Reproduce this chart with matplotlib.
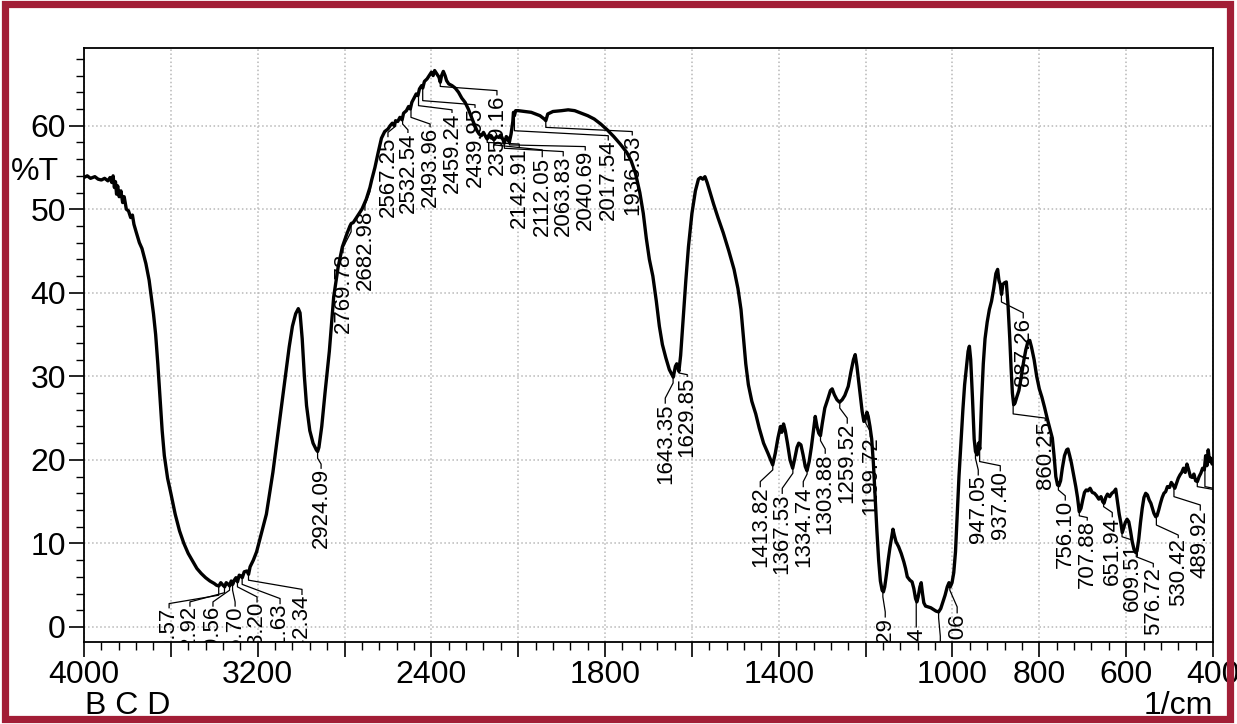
import numpy as np
import matplotlib
matplotlib.use("Agg")
import matplotlib.pyplot as plt
from matplotlib.patches import Rectangle

plt.rcParams["font.family"] = ["Liberation Sans", "DejaVu Sans"]

# spectrum (cm-1, %T)
wavenumber = [
    4000, 3985, 3970, 3950, 3935, 3920, 3905, 3890, 3880, 3872, 3866, 3860, 3855, 3850, 3845,
    3838, 3830, 3822, 3815, 3805, 3795, 3785, 3777, 3770, 3760, 3745, 3733, 3715, 3700, 3690,
    3680, 3670, 3660, 3650, 3640, 3630, 3615, 3600, 3580, 3560, 3540, 3520, 3500, 3480, 3460,
    3440, 3420, 3400, 3390, 3379, 3370, 3360, 3352, 3345, 3335, 3329, 3322, 3315, 3308, 3300,
    3293, 3285, 3278, 3271, 3262, 3250, 3242, 3235, 3220, 3205, 3190, 3175, 3160, 3145, 3130,
    3115, 3100, 3085, 3070, 3055, 3040, 3025, 3013, 3005, 2995, 2985, 2975, 2960, 2945, 2930,
    2924, 2918, 2905, 2890, 2870, 2850, 2830, 2810, 2790, 2775, 2769, 2760, 2740, 2720, 2700,
    2690, 2683, 2675, 2660, 2645, 2630, 2615, 2600, 2590, 2580, 2570, 2565, 2555, 2545, 2535,
    2528, 2515, 2505, 2497, 2490, 2480, 2470, 2462, 2455, 2445, 2440, 2432, 2420, 2410, 2400,
    2392, 2385, 2375, 2365, 2359, 2353, 2345, 2337, 2330, 2320, 2305, 2290, 2275, 2260, 2245,
    2230, 2215, 2200, 2190, 2180, 2170, 2160, 2150, 2143, 2135, 2125, 2112, 2100, 2090, 2080,
    2070, 2064, 2055, 2048, 2041, 2033, 2025, 2022, 2017.5, 2012, 2000, 1985, 1970, 1960, 1950,
    1945, 1940, 1936.5, 1932, 1920, 1900, 1885, 1870, 1855, 1840, 1825, 1810, 1795, 1780, 1765,
    1750, 1740, 1730, 1720, 1712, 1705, 1698, 1690, 1682, 1675, 1668, 1660, 1652, 1646, 1643,
    1638, 1635, 1630, 1626, 1620, 1614, 1608, 1600, 1592, 1585, 1580, 1575, 1570, 1565, 1558,
    1550, 1540, 1528, 1515, 1503, 1494, 1487, 1481, 1476, 1470, 1462, 1453, 1445, 1435, 1425,
    1414, 1408, 1402, 1396, 1393, 1389, 1385, 1380, 1374, 1368, 1363, 1358, 1354, 1349, 1344,
    1339, 1335, 1330, 1325, 1320, 1316, 1312, 1308, 1304, 1300, 1294, 1287, 1281, 1277, 1272,
    1266, 1260, 1254, 1248, 1240, 1234, 1228, 1224, 1220, 1214, 1208, 1204, 1200, 1197, 1194,
    1190, 1186, 1182, 1178, 1174, 1170, 1166, 1162, 1159, 1156, 1152, 1148, 1144, 1140, 1137,
    1134, 1130, 1124, 1118, 1112, 1108, 1104, 1098, 1093, 1089, 1085, 1082, 1079, 1075, 1072,
    1069, 1066, 1062, 1056, 1050, 1044, 1038, 1032, 1027, 1022, 1017, 1012, 1008, 1005, 1001,
    997, 993, 989, 985, 980, 976, 972, 968, 964, 961, 958, 954, 950, 947, 943,
    940, 937, 933, 929, 925, 920, 915, 910, 905, 900, 896, 893, 890, 887, 884,
    880, 876, 872, 868, 865, 862, 859, 856, 852, 847, 842, 836, 831, 826, 822,
    818, 812, 806, 800, 794, 788, 782, 776, 770, 766, 762, 758, 755, 751, 747,
    742, 737, 734, 730, 726, 721, 716, 712, 708, 704, 700, 696, 692, 688, 683,
    678, 673, 668, 663, 658, 654, 651, 647, 643, 638, 633, 628, 624, 620, 616,
    612, 609, 606, 602, 598, 594, 590, 586, 582, 578, 575, 571, 567, 563, 559,
    555, 551, 547, 543, 540, 536, 532, 529, 525, 521, 517, 513, 509, 505, 500,
    496, 492, 488, 484, 480, 476, 472, 468, 464, 460, 456, 452, 448, 444, 440,
    436, 432, 428, 424, 420, 417, 414, 411, 408, 405, 402, 400,
]
transmittance = [
    53.8, 54.0, 53.7, 53.9, 53.6, 53.5, 53.7, 53.4, 53.8, 53.2, 54.0, 52.6, 53.3, 51.8, 52.8,
    51.5, 52.2, 50.8, 51.5, 50.0, 49.8, 49.0, 49.3, 48.2, 47.3, 46.0, 45.3, 43.5, 41.5, 39.5,
    37.5, 35.0, 31.5, 27.5, 23.5, 20.5, 17.8, 16.0, 13.5, 11.5, 10.0, 8.8, 7.9, 7.0, 6.4,
    5.9, 5.5, 5.2, 5.0, 4.9, 5.3, 5.0, 4.8, 5.3, 5.1, 4.9, 5.5, 5.1, 5.6, 5.9,
    5.4, 6.2, 6.1, 5.9, 6.6, 6.7, 6.3, 7.2, 8.0, 9.0, 10.5, 12.0, 13.5, 16.0, 18.5,
    21.5, 24.5, 27.5, 30.5, 33.5, 36.0, 37.5, 38.1, 37.6, 34.5, 30.0, 26.5, 23.5, 22.0, 21.2,
    21.0, 21.5, 24.0, 28.0, 33.0, 39.5, 43.0, 45.5, 47.0, 48.0, 48.3, 48.4, 49.2, 50.0, 51.2,
    52.0, 52.6, 53.5, 55.0, 56.8, 58.5, 59.3, 59.6, 60.0, 60.3, 60.0, 60.6, 60.5, 61.0, 60.7,
    61.5, 61.8, 62.3, 62.0, 62.8, 63.3, 63.8, 63.6, 64.4, 64.8, 64.5, 65.3, 65.6, 66.0, 66.4,
    66.0, 66.6, 66.2, 65.8, 65.2, 66.0, 66.5, 66.0, 65.4, 65.0, 64.8, 64.5, 64.0, 63.3, 62.8,
    62.0, 61.0, 60.0, 59.4, 59.0, 58.8, 59.2, 58.7, 58.4, 58.9, 58.8, 58.3, 58.7, 58.6, 58.9,
    58.3, 57.9, 58.7, 58.5, 58.0, 59.0, 60.5, 61.6, 61.2, 61.8, 61.8, 61.7, 61.6, 61.4, 61.2,
    61.0, 60.8, 60.6, 61.4, 61.7, 61.8, 61.9, 61.8, 61.5, 61.2, 60.8, 60.2, 59.5, 58.7, 57.8,
    56.8, 55.8, 54.3, 52.0, 49.5, 46.5, 44.0, 42.0, 39.0, 36.0, 33.8, 32.2, 30.8, 30.2, 29.9,
    31.2, 31.5, 30.6, 32.5, 37.0, 41.5, 45.5, 49.5, 52.2, 53.6, 53.8, 53.6, 53.9, 53.2, 52.0,
    50.6, 49.0, 47.2, 45.0, 42.8, 40.5, 38.0, 34.5, 31.5, 29.0, 27.0, 25.5, 23.8, 22.0, 20.8,
    19.4, 20.8, 22.6, 24.0, 23.3, 24.3, 23.5, 22.0, 20.0, 19.0, 20.2, 21.5, 22.0, 21.8, 20.6,
    19.2, 18.7, 19.8, 21.5, 23.5, 25.2, 24.0, 23.2, 22.9, 24.3, 26.2, 27.3, 28.3, 28.5, 27.8,
    27.2, 26.9, 27.2, 27.7, 28.8, 30.5, 32.0, 32.6, 31.2, 28.5, 25.8, 24.6, 25.0, 25.7, 25.2,
    24.0, 22.5, 19.5, 15.5, 11.5, 8.0, 5.5, 4.4, 4.2, 4.8, 6.3, 8.0, 9.5, 10.8, 11.7,
    11.0, 10.2, 9.6, 8.8, 7.8, 7.0, 6.0, 5.6, 5.4, 4.6, 3.4, 3.0, 3.6, 4.8, 5.3,
    4.0, 2.9, 2.5, 2.4, 2.3, 2.1, 1.9, 1.8, 2.2, 3.0, 3.8, 4.8, 5.3, 4.8, 5.3,
    6.5, 9.0, 13.5, 18.0, 22.5, 26.0, 29.0, 31.0, 33.0, 33.6, 32.0, 27.5, 22.5, 21.0, 20.6,
    22.0, 21.3, 27.0, 31.5, 34.5, 36.5, 38.0, 39.0, 40.5, 42.3, 42.8, 41.5, 41.0, 39.8, 41.0,
    41.2, 41.3, 38.5, 34.5, 31.0, 28.0, 26.6, 26.8, 27.5, 28.3, 29.8, 31.8, 33.2, 34.2, 34.3,
    33.5, 32.0, 30.0, 28.5, 27.5, 26.3, 25.0, 23.8, 22.6, 20.5, 18.0, 17.0, 16.9, 17.5, 19.0,
    20.5, 21.2, 21.3, 20.5, 19.6, 18.2, 16.8, 15.5, 13.8, 14.2, 15.2, 16.1, 16.4, 16.3, 16.6,
    16.1, 16.0, 15.7, 15.3, 15.6, 15.0, 14.8, 15.5, 15.9, 15.6, 16.0, 16.2, 16.5, 15.0, 13.5,
    12.4, 11.3, 11.8, 12.5, 12.9, 12.6, 11.5, 10.2, 9.3, 8.9, 9.1, 10.5, 12.5, 14.2, 15.5,
    16.0, 15.8, 15.2, 14.8, 14.3, 13.6, 13.2, 13.3, 14.0, 14.8, 15.5, 16.0, 16.2, 16.8, 16.7,
    17.3, 17.0, 16.6, 17.2, 17.8, 18.2, 18.5, 19.0, 18.5, 19.5, 18.8, 18.0, 17.9, 18.3, 17.5,
    17.4, 18.0, 18.4, 19.0, 18.8, 20.5, 19.3, 21.2, 19.8, 20.2, 19.5, 19.8,
]

# picked peaks (cm-1)
peak_wn = [
    3379.57, 3352.92, 3329.56, 3315.70, 3293.20, 3271.63, 3242.34, 2924.09, 2769.78, 2682.98,
    2567.25, 2532.54, 2493.96, 2459.24, 2439.95, 2359.16, 2142.91, 2112.05, 2063.83, 2040.69,
    2017.54, 1936.53, 1643.35, 1629.85, 1413.82, 1367.53, 1334.74, 1303.88, 1259.52, 1199.72,
    1160.29, 1083.44, 1031.92, 1006.06, 947.05, 937.40, 887.26, 860.25, 756.10, 707.88,
    651.94, 609.51, 576.72, 530.42, 489.92, 436.19, 418.62,
]

# where each peak label sits: label x (cm-1), label top, leader bend, leader elbow (%T)
label_layout = [
    (3608, 2.3, 3.8, 2.8), (3512, 2.5, 4.1, 3.0), (3406, 2.5, 4.4, 3.0), (3304, 2.5, 4.4, 3.0),
    (3203, 3.0, 4.8, 3.6), (3097, 2.8, 5.1, 3.4), (2996, 3.9, 5.6, 4.5),
    (2908, 19.0, 20.2, 19.5), (2807, 44.8, 47.3, 45.4), (2706, 49.9, 52.1, 50.5),
    (2600, 58.7, 59.9, 59.2), (2508, 59.2, 60.2, 59.5), (2406, 59.9, 61.0, 60.2),
    (2305, 61.6, 62.4, 61.9), (2199, 62.2, 63.0, 62.5), (2098, 63.7, 64.7, 64.2),
    (1997.7, 57.4, 58.0, 57.8), (1944.7, 56.3, 57.7, 57.1), (1896.4, 56.4, 57.3, 56.9),
    (1845.7, 57.1, 57.7, 57.5), (1792.7, 58.3, 59.4, 58.8), (1737.4, 58.9, 59.8, 59.3),
    (1661.4, 26.8, 29.2, 27.4), (1610.8, 30.0, 30.4, 30.2),
    (1442.6, 16.8, 18.8, 17.4), (1392, 16.0, 18.4, 16.6), (1343.6, 16.8, 18.3, 17.4),
    (1293, 20.8, 22.3, 21.3), (1242.3, 24.4, 26.2, 25.0), (1189.3, 22.8, 24.4, 23.4),
    (1154.8, 1.2, 3.6, 1.8), (1083.4, 0.0, 2.3, 0.6), (1028, -1.7, 1.1, -1.1),
    (989.2, 1.7, 4.4, 2.4), (940.6, 18.2, 20.2, 18.8), (889.9, 18.7, 19.8, 19.3),
    (837, 37.0, 38.9, 37.6), (786.3, 24.7, 25.5, 25.0), (740.2, 15.2, 16.4, 15.7),
    (689.6, 12.8, 13.3, 13.1), (632, 13.2, 14.4, 13.7), (585.9, 10.1, 10.8, 10.4),
    (537.5, 7.2, 8.4, 7.6), (480, 10.7, 12.2, 11.0), (429.3, 14.0, 15.6, 14.6),
    (393, 16.0, 16.8, 16.4), (380, 16.0, 16.8, 16.4),
]

major_x = [4000, 3600, 3200, 2800, 2400, 2000, 1800, 1600, 1400, 1200, 1000, 800, 600, 400]
labelled_x = [4000, 3200, 2400, 1800, 1400, 1000, 800, 600, 400]
major_y = [0, 10, 20, 30, 40, 50, 60]


def fwd(w):
    # instrument scale: 400-2000 cm-1 drawn at twice the width of 2000-4000
    w = np.asarray(w, dtype=float)
    return np.where(w >= 2000, w, 2 * w - 2000)


def inv(u):
    u = np.asarray(u, dtype=float)
    return np.where(u >= 2000, u, (u + 2000) / 2)


W, H = 1237, 724
fig = plt.figure(figsize=(W / 100, H / 100), dpi=100)
ax = fig.add_axes([84 / W, 1 - 642 / H, (1213 - 84) / W, (642 - 48) / H])
ax.set_xscale("function", functions=(fwd, inv))
ax.set_xlim(4000, 400)
ax.set_ylim(-1.8, 69.3)

wn = np.array(wavenumber)
tr = np.array(transmittance)
ax.plot(wn, tr, color="black", lw=2.4, zorder=3, solid_joinstyle="round")

# peak labels with leader lines (labels that fall past 400 cm-1 are cut by the frame)
for pk, (lx, top, bend, elbow) in zip(peak_wn, label_layout):
    tp = np.interp(pk, wn[::-1], tr[::-1])
    ax.plot([pk, pk, lx, lx], [tp - 0.2, bend, elbow, top], color="black", lw=0.9,
            zorder=2, clip_on=True)
    if lx > 400:
        ax.text(lx, top, f"{pk:.2f}", rotation=90, ha="center", va="top", fontsize=16,
                clip_on=True, zorder=4)

# axes styling
ax.set_xticks(major_x, labels=[str(v) if v in labelled_x else "" for v in major_x])
ax.set_xticks(list(np.arange(2080, 4000, 80)) + list(np.arange(440, 2000, 40)), minor=True)
ax.set_yticks(major_y)
ax.set_yticks(np.arange(0, 70, 2), minor=True)
ax.tick_params(axis="both", which="major", direction="out", length=11, width=1.2,
               labelsize=23, pad=2)
ax.tick_params(axis="both", which="minor", direction="out", length=6, width=1.0)
ax.grid(True, which="major", color="#b8b8b8", linestyle=":", linewidth=1.1)
for sp in ax.spines.values():
    sp.set_linewidth(1.3)

fig.text(35 / W, 1 - 172 / H, "%T", ha="center", va="center", fontsize=23)
fig.text(85 / W, 1 - 706 / H, "B C D", ha="left", va="center", fontsize=23)
fig.text(1213 / W, 1 - 706 / H, "1/cm", ha="right", va="center", fontsize=23)

# dark red frame around the whole picture
fig.patches.append(Rectangle((4.5 / W, 1 - 719 / H), (1229.5 - 4.5) / W, (719 - 3.5) / H,
                             transform=fig.transFigure, fill=False, edgecolor="#a21e36",
                             linewidth=5.2, zorder=10))

fig.savefig("out.png", dpi=100)
